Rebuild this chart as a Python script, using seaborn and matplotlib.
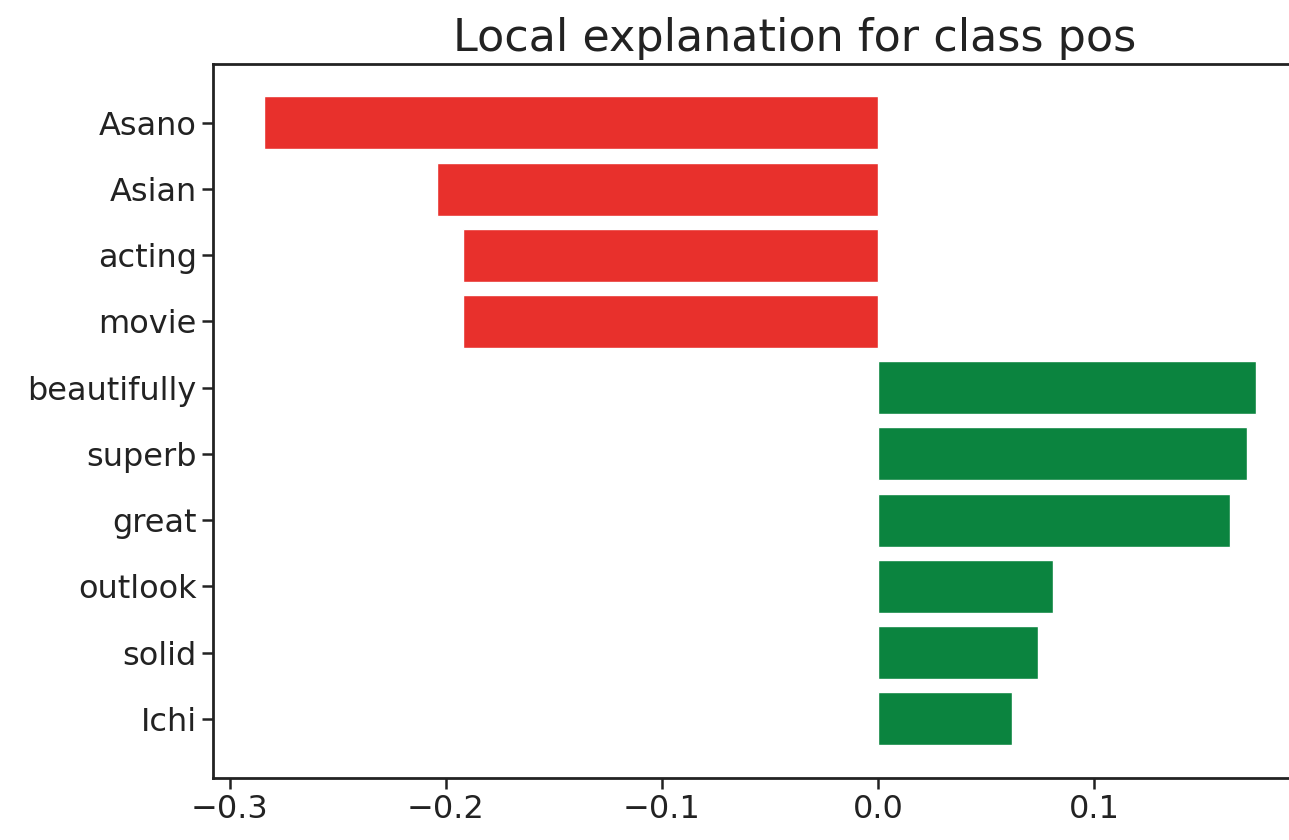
import pandas as pd
import seaborn as sns
import matplotlib.pyplot as plt

# feature weights from the explanation (top to bottom)
features = ["Asano", "Asian", "acting", "movie", "beautifully",
            "superb", "great", "outlook", "solid", "Ichi"]
weights = [-0.284, -0.204, -0.192, -0.192, 0.175,
           0.171, 0.163, 0.081, 0.074, 0.062]

df = pd.DataFrame({"feature": features, "weight": weights})
df["sign"] = ["neg" if w < 0 else "pos" for w in weights]

sns.set_style("ticks")
plt.rcParams["font.family"] = ["DejaVu Sans"]

fig = plt.figure(figsize=(12.89, 8.4), dpi=100)
ax = fig.add_axes([0.165, 0.074, 0.848, 0.850])

sns.barplot(data=df, x="weight", y="feature", hue="sign",
            palette={"neg": "#e8302c", "pos": "#0b843f"},
            orient="h", width=0.8, dodge=False, legend=False,
            saturation=1, ax=ax)

ax.set_xlim(-0.3079, 0.198)
ax.set_ylim(9.89, -0.89)
ax.set_xticks([-0.3, -0.2, -0.1, 0.0, 0.1])
ax.set_xticklabels(["\u22120.3", "\u22120.2", "\u22120.1", "0.0", "0.1"])
ax.set_xlabel("")
ax.set_ylabel("")
ax.set_title("Local explanation for class pos", fontsize=32, color="#222222",
             pad=9, x=0.532)

ax.tick_params(labelsize=23, length=8, width=1.8, colors="#222222")
for s in ax.spines.values():
    s.set_visible(True)
    s.set_linewidth(2)
    s.set_color("#222222")

fig.savefig("out.png", dpi=100)
